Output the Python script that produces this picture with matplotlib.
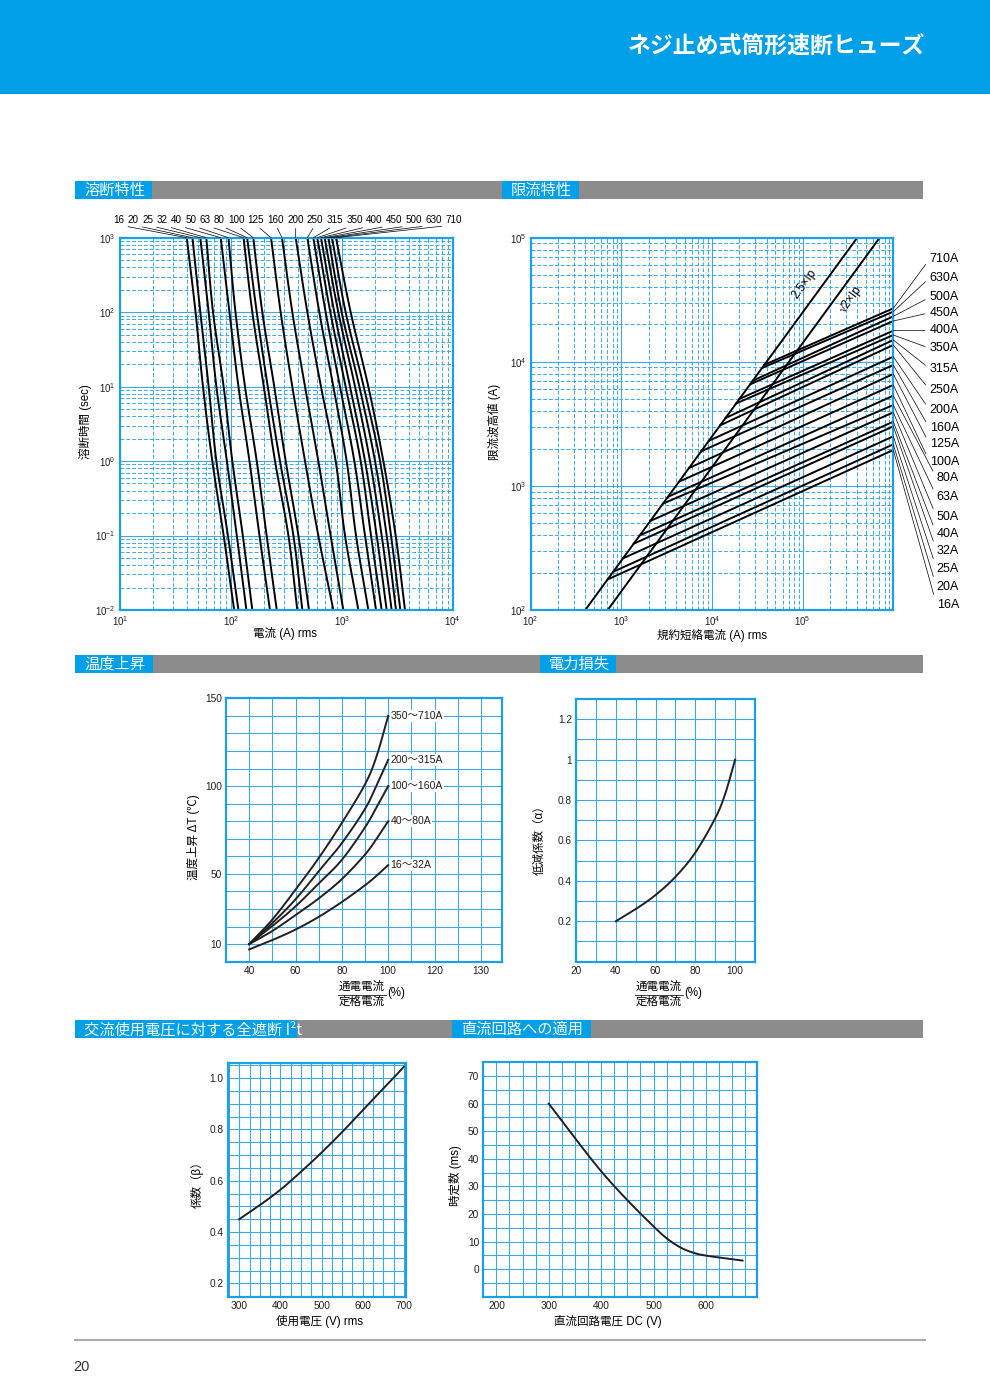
import numpy as np
import matplotlib
matplotlib.use('Agg')
import matplotlib.pyplot as plt
from matplotlib.patches import Rectangle
from matplotlib.ticker import LogLocator, NullFormatter

plt.rcParams['font.family'] = ['Liberation Sans', 'Noto Sans CJK JP', 'DejaVu Sans']
plt.rcParams['mathtext.fontset'] = 'custom'
plt.rcParams['mathtext.rm'] = 'Liberation Sans'
plt.rcParams['mathtext.it'] = 'Liberation Sans:italic'
plt.rcParams['axes.unicode_minus'] = False

W, H = 990, 1400
BLUE = '#00a0e9'
FRAME = '#1e9fe2'
GRID = '#3aaae6'
GRAY = '#8c8c8c'
INK = '#231f20'

# ---------------- data ----------------
ratings = ['16', '20', '25', '32', '40', '50', '63', '80', '100', '125',
           '160', '200', '250', '315', '350', '400', '450', '500', '630', '710']

# melting time / current (A) read at each time level, one value per rating
melt_t = [1000, 100, 10, 1, 0.1, 0.01]
melt_I_1000 = [40, 45, 53, 60, 81, 95, 130, 140, 159, 230, 289, 384, 489, 554, 601, 649, 700, 756, 816, 886]
melt_I_100 = [48, 53, 63, 69, 97, 110, 156, 171, 192, 281, 358, 489, 627, 715, 788, 856, 930, 997, 1083, 1202]
melt_I_10 = [56, 63, 74, 86, 117, 134, 198, 215, 246, 358, 466, 649, 839, 963, 1083, 1186, 1316, 1440, 1575, 1735]
melt_I_1 = [68, 74, 92, 103, 147, 171, 250, 277, 312, 466, 614, 880, 1106, 1297, 1480, 1619, 1796, 1993, 2211, 2369]
melt_I_01 = [86, 94, 113, 128, 181, 210, 330, 366, 406, 614, 793, 1069, 1343, 1619, 1834, 2063, 2288, 2539, 2778, 3060]
melt_I_001 = [107, 117, 138, 156, 225, 259, 397, 441, 506, 839, 1032, 1410, 1735, 2034, 2288, 2539, 2816, 3082, 3372, 3715]

# current limiting: prospective current (A) / peak (A)
ip25_I = [400, 400000]
ip25_peak = [100, 100000]
ip14_I = [707, 707000]
ip14_peak = [100, 100000]
lim_start_I = [703, 812, 1046, 1370, 1595, 2090, 2880, 3270, 4320, 5565,
               7605, 9237, 12310, 14090, 18460, 20090, 26320, 28160, 35670, 37840]
lim_start_peak = [176, 203, 261, 342, 399, 522, 720, 817, 1080, 1391,
                  1901, 2309, 3077, 3522, 4615, 5022, 6580, 7040, 8917, 9460]
lim_end_I = 1.0e6
lim_end_peak = [1947, 2162, 2508, 3020, 3293, 3915, 4487, 5335, 6504, 7973,
                9424, 11000, 13660, 14990, 16440, 17820, 21320, 23250, 25350, 26970]

# temperature rise
temp_x = [40, 50, 60, 70, 80, 90, 95, 100]
rise_350_710 = [10, 24, 41, 59, 79, 101, 117, 140]
rise_200_315 = [10, 22, 35.5, 51.5, 67.5, 87, 100.5, 115]
rise_100_160 = [10, 20.3, 31.5, 44.5, 58, 76.5, 88, 100]
rise_40_80 = [10, 17.5, 26.5, 36, 47, 61, 70, 80]
rise_16_32 = [7, 12.3, 18.3, 25.5, 34, 43.5, 49, 55]
rise_labels = ['350～710A', '200～315A', '100～160A', '40～80A', '16～32A']

# power loss
loss_x = [40, 50, 60, 70, 80, 90, 95, 100]
loss_alpha = [0.2, 0.26, 0.33, 0.42, 0.54, 0.71, 0.83, 1.0]

# AC voltage vs I2t factor
ac_v = [300, 350, 400, 450, 500, 550, 600, 650, 680, 700]
ac_beta = [0.45, 0.505, 0.565, 0.635, 0.71, 0.79, 0.875, 0.96, 1.01, 1.045]

# DC circuit time constant
dc_v = [300, 350, 400, 450, 500, 525, 550, 575, 600, 650, 670]
dc_tau = [60, 47.5, 35.5, 25, 15.5, 11.2, 8.0, 6.0, 4.9, 3.6, 3.1]


def smooth(x, y, n=24):
    # catmull-rom through the read points
    x = np.asarray(x, float)
    y = np.asarray(y, float)
    px = np.r_[2 * x[0] - x[1], x, 2 * x[-1] - x[-2]]
    py = np.r_[2 * y[0] - y[1], y, 2 * y[-1] - y[-2]]
    t = np.linspace(0, 1, n, endpoint=False)
    xs, ys = [], []
    for i in range(1, len(px) - 2):
        for p, out in ((px, xs), (py, ys)):
            p0, p1, p2, p3 = p[i - 1], p[i], p[i + 1], p[i + 2]
            out.append(0.5 * (2 * p1 + (-p0 + p2) * t + (2 * p0 - 5 * p1 + 4 * p2 - p3) * t ** 2
                              + (-p0 + 3 * p1 - 3 * p2 + p3) * t ** 3))
    return np.r_[np.concatenate(xs), x[-1]], np.r_[np.concatenate(ys), y[-1]]


fig = plt.figure(figsize=(W / 100, H / 100), dpi=100)
page = fig.add_axes([0, 0, 1, 1])
page.set_xlim(0, W)
page.set_ylim(H, 0)
page.axis('off')


def px_axes(x0, y0, x1, y1):
    return fig.add_axes([x0 / W, 1 - y1 / H, (x1 - x0) / W, (y1 - y0) / H])


def frame(ax):
    for s in ax.spines.values():
        s.set_color(FRAME)
        s.set_linewidth(1.6)
    ax.tick_params(which='both', length=0, labelsize=7.3, colors=INK, pad=3)
    ax.set_axisbelow(True)


def log_grid(ax):
    for axis in (ax.xaxis, ax.yaxis):
        axis.set_minor_locator(LogLocator(base=10, subs=np.arange(2, 10), numticks=50))
        axis.set_minor_formatter(NullFormatter())
    ax.grid(which='major', color=GRID, lw=0.8, ls='-')
    ax.grid(which='minor', color=GRID, lw=0.7, ls=(0, (4, 2)))


def lin_grid(ax, xs, ys):
    ax.set_xticks(xs, minor=True)
    ax.set_yticks(ys, minor=True)
    ax.grid(which='both', color=GRID, lw=0.8, ls='-')


# ---- header band and section bars
page.add_patch(Rectangle((0, 0), W, 94, color=BLUE, lw=0))
page.text(925, 47, 'ネジ止め式筒形速断ヒューズ', color='white', fontsize=16.5,
          fontweight='bold', ha='right', va='center', family=['Noto Sans CJK JP'])


def section(y, boxes):
    page.add_patch(Rectangle((75, y), 848, 18, color=GRAY, lw=0))
    for x0, x1, txt in boxes:
        page.add_patch(Rectangle((x0, y), x1 - x0, 18, color=BLUE, lw=0))
        page.text(x0 + 9, y + 9.5, txt, color='white', fontsize=11, ha='left',
                  va='center', family=['Noto Sans CJK JP', 'DejaVu Sans'])


section(181, [(75, 152, '溶断特性'), (502, 579, '限流特性')])
section(655, [(75, 153, '温度上昇'), (540, 616, '電力損失')])
section(1020, [(75, 297, '交流使用電圧に対する全遮断 I²t'), (452, 591, '直流回路への適用')])

page.plot([75, 925], [1340, 1340], color='#aaaaaa', lw=1.5)
page.text(73, 1367, '20', fontsize=10.5, ha='left', va='center', color='#333333')

LAB = 8.3

# ---- 溶断特性
ax1 = px_axes(120, 237.7, 452.7, 610)
ax1.set_xscale('log')
ax1.set_yscale('log')
ax1.set_xlim(10, 1e4)
ax1.set_ylim(1e-2, 1e3)
log_grid(ax1)
frame(ax1)
ax1.set_xticks([10, 100, 1000, 10000], [r'$10^{1}$', r'$10^{2}$', r'$10^{3}$', r'$10^{4}$'])
ax1.set_yticks([1e-2, 1e-1, 1, 10, 100, 1000],
               [r'$10^{-2}$', r'$10^{-1}$', r'$10^{0}$', r'$10^{1}$', r'$10^{2}$', r'$10^{3}$'])
ax1.tick_params(labelsize=7)
melt_rows = [melt_I_1000, melt_I_100, melt_I_10, melt_I_1, melt_I_01, melt_I_001]
label_x = [119, 133.3, 147.7, 162.3, 176.3, 190.7, 205, 219.3, 236.7, 256,
           275.7, 295.7, 315, 335, 355, 374.3, 394, 414, 433.7, 453.3]
for k, name in enumerate(ratings):
    cur = [row[k] for row in melt_rows]
    lt, li = smooth(np.log10(melt_t), np.log10(cur))
    ax1.plot(10 ** li, 10 ** lt, color='black', lw=1.4, solid_capstyle='butt')
    ax1.annotate(name, xy=(cur[0], 1000), xytext=(label_x[k], 220),
                 textcoords=page.transData, ha='center', va='center', fontsize=7.1,
                 family=['Liberation Sans Narrow', 'Liberation Sans'], fontstretch='condensed',
                 annotation_clip=False,
                 arrowprops=dict(arrowstyle='-', lw=0.5, color='black', shrinkA=0.5, shrinkB=0,
                                 relpos=(0.5, 0)))
page.text(285, 634, '電流 (A) rms', fontsize=LAB, ha='center', va='center')
page.text(85, 422, '溶断時間 (sec)', fontsize=LAB, ha='center', va='center', rotation=90)

# ---- 限流特性
ax2 = px_axes(530.7, 237.7, 893.3, 610)
ax2.set_xscale('log')
ax2.set_yscale('log')
ax2.set_xlim(1e2, 1e6)
ax2.set_ylim(1e2, 1e5)
log_grid(ax2)
frame(ax2)
ax2.set_xticks([1e2, 1e3, 1e4, 1e5], [r'$10^{2}$', r'$10^{3}$', r'$10^{4}$', r'$10^{5}$'])
ax2.set_yticks([1e2, 1e3, 1e4, 1e5], [r'$10^{2}$', r'$10^{3}$', r'$10^{4}$', r'$10^{5}$'])
ax2.tick_params(labelsize=7)
ax2.plot(ip25_I, ip25_peak, color='black', lw=1.4)
ax2.plot(ip14_I, ip14_peak, color='black', lw=1.4)
lim_label_y = [605, 587.3, 569.3, 551, 534.3, 517.3, 496.7, 478.3, 461.7, 444.3,
               428.3, 410, 390, 368.7, 348.3, 330.3, 312.7, 297.3, 277.7, 259]
for k, name in enumerate(ratings):
    ax2.plot([lim_start_I[k], lim_end_I], [lim_start_peak[k], lim_end_peak[k]],
             color='black', lw=1.4)
    ax2.annotate(name + 'A', xy=(lim_end_I, lim_end_peak[k]), xytext=(959, lim_label_y[k]),
                 textcoords=page.transData, ha='right', va='center', fontsize=9,
                 annotation_clip=False,
                 arrowprops=dict(arrowstyle='-', lw=0.5, color='black', shrinkA=1.5, shrinkB=0,
                                 relpos=(0, 0.5)))
ax2.text(804, 284, '2.5×Ip', fontsize=8.6, rotation=53.8, ha='center', va='center',
         transform=page.transData, clip_on=False)
ax2.text(851, 299, '√2×Ip', fontsize=8.6, rotation=53.8, ha='center', va='center',
         transform=page.transData, clip_on=False)
page.text(712, 635, '規約短絡電流 (A) rms', fontsize=LAB, ha='center', va='center')
page.text(494, 422, '限流波高値 (A)', fontsize=LAB, ha='center', va='center', rotation=90)

# ---- 温度上昇
ax3 = px_axes(226, 698.3, 501.7, 961.7)
ax3.set_xlim(30, 149)
ax3.set_ylim(0, 150)
lin_grid(ax3, np.arange(40, 141, 10), np.arange(10, 141, 10))
frame(ax3)
ax3.set_xticks([40, 60, 80, 100, 120, 140], ['40', '60', '80', '100', '120', '130'])
ax3.set_yticks([10, 50, 100, 150])
for series, lab in zip([rise_350_710, rise_200_315, rise_100_160, rise_40_80, rise_16_32], rise_labels):
    sx, sy = smooth(temp_x, series)
    ax3.plot(sx, sy, color=INK, lw=1.4)
    ax3.text(temp_x[-1] + 1.0, series[-1], lab, fontsize=7.6, ha='left', va='center', color=INK,
             bbox=dict(facecolor='white', edgecolor='none', pad=0.6))
page.text(193, 837, '温度上昇 ΔT (℃)', fontsize=LAB, ha='center', va='center', rotation=90)


def frac_label(cx):
    page.text(cx, 987, '通電電流', fontsize=LAB, ha='center', va='center')
    page.text(cx, 1002, '定格電流', fontsize=LAB, ha='center', va='center')
    page.plot([cx - 24, cx + 24], [994.5, 994.5], color=INK, lw=0.6)
    page.text(cx + 25, 993, '(%)', fontsize=LAB, ha='left', va='center')


frac_label(362)

# ---- 電力損失
ax4 = px_axes(576, 699, 755, 961.7)
ax4.set_xlim(20, 110)
ax4.set_ylim(0, 1.3)
lin_grid(ax4, np.arange(30, 101, 10), np.arange(0.1, 1.25, 0.1))
frame(ax4)
ax4.set_xticks([20, 40, 60, 80, 100])
ax4.set_yticks([0.2, 0.4, 0.6, 0.8, 1.0, 1.2], ['0.2', '0.4', '0.6', '0.8', '1', '1.2'])
sx, sy = smooth(loss_x, loss_alpha)
ax4.plot(sx, sy, color=INK, lw=1.4)
page.text(540, 837, '低減係数（α）', fontsize=LAB, ha='center', va='center', rotation=90)
frac_label(659)

# ---- 交流使用電圧
ax5 = px_axes(227.7, 1063.3, 406, 1296.7)
ax5.set_xlim(272, 705)
ax5.set_ylim(0.148, 1.058)
lin_grid(ax5, np.arange(275, 701, 25), np.arange(0.2, 1.051, 0.05))
frame(ax5)
ax5.set_xticks([300, 400, 500, 600, 700])
ax5.set_yticks([0.2, 0.4, 0.6, 0.8, 1.0], ['0.2', '0.4', '0.6', '0.8', '1.0'])
sx, sy = smooth(ac_v, ac_beta)
ax5.plot(sx, sy, color=INK, lw=1.4)
page.text(197, 1182, '係数（β）', fontsize=LAB, ha='center', va='center', rotation=90)
page.text(320, 1321, '使用電圧 (V) rms', fontsize=LAB, ha='center', va='center')

# ---- 直流回路
ax6 = px_axes(483.3, 1062.3, 756.7, 1296.7)
ax6.set_xlim(175, 697)
ax6.set_ylim(-10, 75)
lin_grid(ax6, np.arange(200, 697, 25), np.arange(-5, 71, 5))
frame(ax6)
ax6.set_xticks([200, 300, 400, 500, 600])
ax6.set_yticks([0, 10, 20, 30, 40, 50, 60, 70])
sx, sy = smooth(dc_v, dc_tau)
ax6.plot(sx, sy, color=INK, lw=1.4)
page.text(455, 1176, '時定数 (ms)', fontsize=LAB, ha='center', va='center', rotation=90)
page.text(608, 1321, '直流回路電圧 DC (V)', fontsize=LAB, ha='center', va='center')

fig.savefig('out.png', dpi=100)
